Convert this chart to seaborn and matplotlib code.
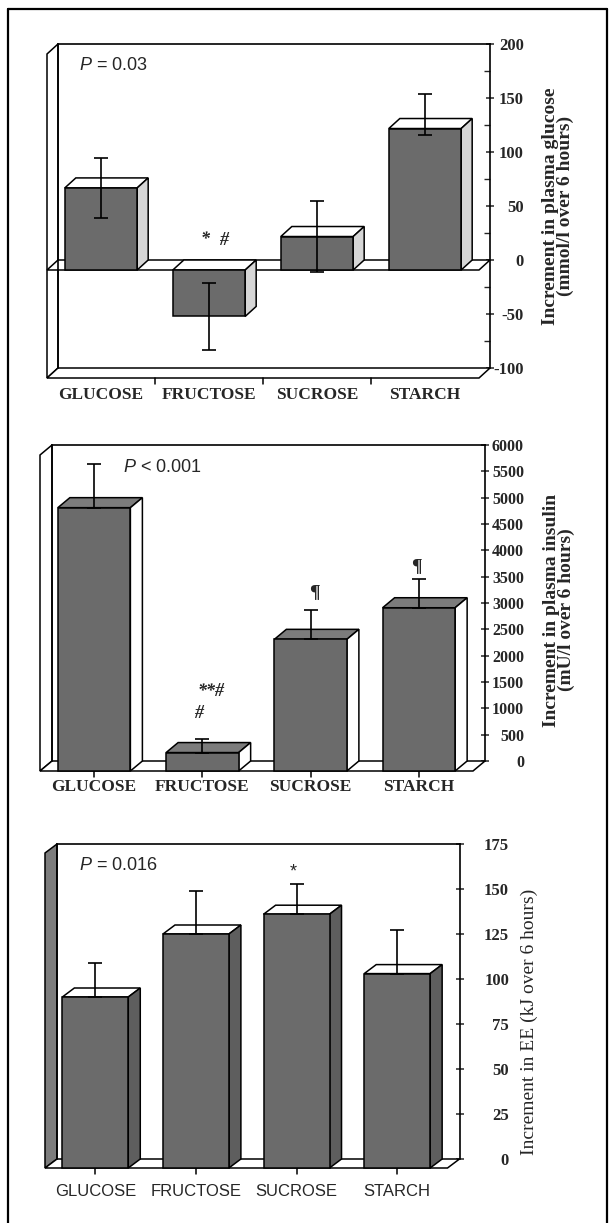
import numpy as np
import pandas as pd
import matplotlib
matplotlib.use("Agg")
import matplotlib.pyplot as plt
import seaborn as sns
from matplotlib.patches import Polygon
from matplotlib.lines import Line2D

sns.set_style("white")
plt.rcParams['font.family'] = ['Liberation Serif', 'DejaVu Serif']
plt.rcParams['mathtext.fontset'] = 'custom'
plt.rcParams['mathtext.it'] = 'Liberation Sans:italic'
plt.rcParams['mathtext.rm'] = 'Liberation Sans'

# --- data ---
categories = ["GLUCOSE", "FRUCTOSE", "SUCROSE", "STARCH"]

glucose_vals = [76, -43, 31, 131]
glucose_err_lo = [28, 31, 33, 6]
glucose_err_hi = [28, 31, 33, 32]
glucose_ticks = [-100, -50, 0, 50, 100, 150, 200]

insulin_vals = [5000, 350, 2500, 3100]
insulin_err = [820, 250, 560, 540]
insulin_ticks = list(range(0, 6001, 500))

ee_vals = [95, 130, 141, 108]
ee_err = [19, 24, 17, 24]
ee_ticks = list(range(0, 176, 25))

W, H = 613, 1223
fig = plt.figure(figsize=(W / 100, H / 100), dpi=100)
PT = 100 / 72  # px per point


def px_axes(x0, x1, ytop, ybot):
    return fig.add_axes([x0 / W, 1 - ybot / H, (x1 - x0) / W, (ybot - ytop) / H])


def poly(ax, pts, fc, z):
    ax.add_patch(Polygon(pts, closed=True, facecolor=fc, edgecolor='black',
                         linewidth=1.1, zorder=z, clip_on=False))


def panel(ax, vals, err_lo, err_hi, ylim, ticks, dx, dy, cols, width,
          zero_plane=False, xtick_pos='center', cat_font=None, lab_off=17,
          lab_right=520, show_lower=True, tick_size=12):
    df = pd.DataFrame({'cat': categories, 'val': vals})
    sns.barplot(data=df, x='cat', y='val', order=categories, color=cols['front'],
                saturation=1, width=width, edgecolor='black', linewidth=1.1,
                errorbar=None, ax=ax, zorder=4)
    ax.set_xlim(-0.5, 3.5)
    ax.set_ylim(*ylim)
    bb = ax.get_position()
    wpx, hpx = bb.width * W, bb.height * H
    ux = dx * 4 / wpx
    uy = dy * (ylim[1] - ylim[0]) / hpx
    ymin, ymax = ylim

    # walls and floor
    poly(ax, [(-0.5, ymin), (-0.5, ymax), (-0.5 - ux, ymax - uy), (-0.5 - ux, ymin - uy)],
         cols['wall'], 1)
    poly(ax, [(-0.5, ymin), (3.5, ymin), (3.5 - ux, ymin - uy), (-0.5 - ux, ymin - uy)],
         'white', 1)
    if zero_plane:
        poly(ax, [(-0.5, 0), (3.5, 0), (3.5 - ux, -uy), (-0.5 - ux, -uy)], 'white', 1.5)

    # 3D boxes built from the seaborn bars
    for p in ax.patches[:4]:
        x0, w = p.get_x(), p.get_width()
        y0, h = p.get_y(), p.get_height()
        lo, hi = min(y0, y0 + h), max(y0, y0 + h)
        x1 = x0 + w
        poly(ax, [(x0 - ux, hi - uy), (x1 - ux, hi - uy), (x1, hi), (x0, hi)], cols['top'], 3)
        poly(ax, [(x1 - ux, lo - uy), (x1 - ux, hi - uy), (x1, hi), (x1, lo)], cols['side'], 3)
        p.set_x(x0 - ux)
        p.set_y(y0 - uy)
        p.set_clip_on(False)

    xs = np.arange(len(categories)) - ux
    ys = np.array(vals) - uy
    lo_err = err_lo if show_lower else [0] * len(vals)
    ax.errorbar(xs, ys, yerr=[lo_err, err_hi], fmt='none', ecolor='black',
                elinewidth=1.2, capsize=5, capthick=1.2, zorder=6, clip_on=False)

    # category labels and ticks on the front floor edge
    ax.set_xticks([])
    ax.set_xlabel('')
    ax.set_ylabel('')
    front_bottom = ymin - uy
    tick_len = 6 * (ymax - ymin) / hpx
    tx = np.arange(0.5, 3.0, 1.0) if xtick_pos == 'between' else np.arange(4)
    for x in tx:
        ax.plot([x - ux, x - ux], [front_bottom, front_bottom - tick_len],
                color='black', lw=1.1, clip_on=False, zorder=2)
    for i, c in enumerate(categories):
        ax.annotate(c, xy=(i - ux, front_bottom), xytext=(0, -lab_off / PT),
                    textcoords='offset points', ha='center', va='center',
                    annotation_clip=False, **cat_font)

    # right value axis on the back wall
    for s in ['left', 'top', 'right']:
        ax.spines[s].set_visible(True)
        ax.spines[s].set_color('black')
        ax.spines[s].set_linewidth(1.2)
    ax.spines['bottom'].set_visible(False)
    ax.yaxis.tick_right()
    ax.set_yticks(ticks)
    ax.set_yticklabels([str(t) for t in ticks])
    axis_x = (bb.x0 + bb.width) * W
    ax.tick_params(axis='y', direction='inout', length=6, width=1.1,
                   pad=(lab_right - axis_x) / PT - 3, labelsize=tick_size)
    for lab in ax.get_yticklabels():
        lab.set_horizontalalignment('right')
        lab.set_fontweight('bold')
    return ux, uy


def ftext(x, y, s, **kw):
    fig.text(x / W, 1 - y / H, s, **kw)


serif_bold = dict(fontsize=12.5, fontweight='bold', family=['Liberation Serif'])
sans = dict(fontsize=12, family=['Liberation Sans'])

# --- panel 1: plasma glucose ---
ax1 = px_axes(58, 490, 44, 368)
panel(ax1, glucose_vals, glucose_err_lo, glucose_err_hi, (-100, 200), glucose_ticks,
      11, 10, dict(front='#6b6b6b', top='white', side='#d6d6d6', wall='white'), 0.67,
      zero_plane=True, xtick_pos='between', cat_font=serif_bold, lab_off=17, lab_right=524)
ax1.set_yticks(np.arange(-75, 200, 50), minor=True)
ax1.tick_params(axis='y', which='minor', direction='in', length=4, width=1)

# --- panel 2: plasma insulin ---
ax2 = px_axes(52, 485, 445, 761)
panel(ax2, insulin_vals, insulin_err, insulin_err, (0, 6000), insulin_ticks,
      12, 10, dict(front='#6b6b6b', top='#7c7c7c', side='white', wall='white'), 0.67,
      cat_font=serif_bold, lab_off=16, lab_right=524, show_lower=False, tick_size=11.5)

# --- panel 3: energy expenditure ---
ax3 = px_axes(57, 459.5, 844, 1159)
panel(ax3, ee_vals, ee_err, ee_err, (0, 175), ee_ticks,
      12, 9, dict(front='#6b6b6b', top='white', side='#5e5e5e', wall='#7c7c7c'), 0.655,
      cat_font=sans, lab_off=24, lab_right=509, show_lower=False)

# --- P values and significance marks ---
pk = dict(fontsize=13, family=['Liberation Sans'], va='center', ha='left')
ftext(79, 66, '$P$ = 0.03', **pk)
ftext(123, 468, '$P$ < 0.001', **pk)
ftext(79, 865, '$P$ = 0.016', **pk)

mk = dict(fontsize=13, fontweight='bold', style='italic', ha='center', va='center')
ftext(205, 240, '*', **mk)
ftext(224, 240, '#', **mk)
ftext(211, 692, '**#', **mk)
ftext(199, 713, '#', **mk)
ftext(314, 593, '\u00b6', fontsize=14, fontweight='bold', ha='center', va='center')
ftext(416, 567, '\u00b6', fontsize=14, fontweight='bold', ha='center', va='center')
ftext(293, 872, '*', fontsize=13, family=['Liberation Sans'], ha='center', va='center')

# --- y axis titles ---
yl = dict(rotation=90, ha='center', va='center', fontsize=14, linespacing=0.9)
ftext(558, 206, 'Increment in plasma glucose\n(mmol/l over 6 hours)', fontweight='bold', **yl)
ftext(559, 610, 'Increment in plasma insulin\n(mU/l over 6 hours)', fontweight='bold', **yl)
ftext(529, 1022, 'Increment in EE (kJ over 6 hours)', **yl)

# --- outer frame ---
for xs_, ys_ in [([8, 8], [9, 1223]), ([8, 607], [9, 9]), ([607, 607], [9, 1223])]:
    fig.add_artist(Line2D([v / W for v in xs_], [1 - v / H for v in ys_],
                          color='black', lw=1.6))

fig.savefig("out.png", dpi=100)
